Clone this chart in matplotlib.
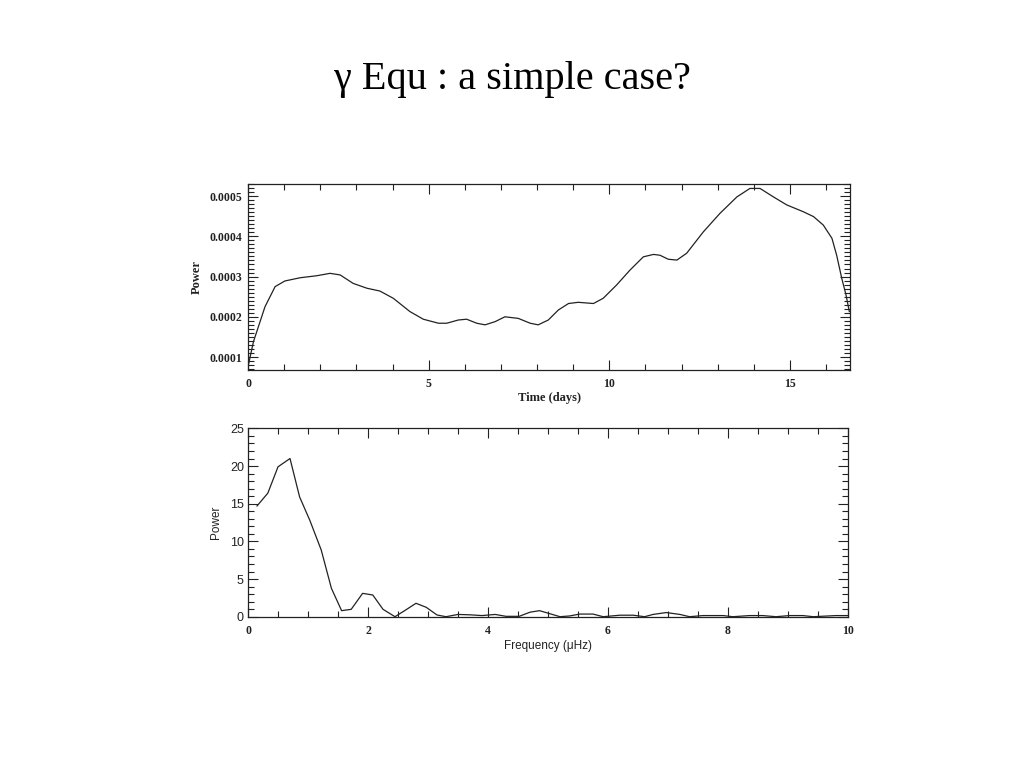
import matplotlib
matplotlib.use("Agg")
import matplotlib.pyplot as plt
from matplotlib.ticker import MultipleLocator

# top panel: power vs time (days)
time_days = [0.0, 0.15, 0.47, 0.75, 1.02, 1.44, 1.90, 2.27, 2.55, 2.91, 3.29, 3.65,
             4.02, 4.48, 4.85, 5.27, 5.50, 5.82, 6.05, 6.33, 6.56, 6.84, 7.11, 7.48,
             7.81, 8.03, 8.31, 8.59, 8.87, 9.14, 9.56, 9.83, 10.20, 10.57, 10.94,
             11.22, 11.40, 11.63, 11.87, 12.14, 12.60, 13.06, 13.53, 13.89, 14.17,
             14.54, 14.91, 15.37, 15.65, 15.92, 16.16, 16.29, 16.43, 16.55, 16.64]
power_time = [0.76, 1.38, 2.25, 2.75, 2.89, 2.97, 3.02, 3.08, 3.04, 2.83, 2.71, 2.64,
              2.46, 2.13, 1.94, 1.84, 1.84, 1.92, 1.94, 1.84, 1.80, 1.88, 2.00, 1.96,
              1.84, 1.80, 1.92, 2.17, 2.33, 2.36, 2.33, 2.46, 2.79, 3.16, 3.49,
              3.55, 3.53, 3.43, 3.41, 3.58, 4.11, 4.57, 4.98, 5.19, 5.19,
              4.98, 4.78, 4.61, 4.49, 4.28, 3.95, 3.53, 2.96, 2.54, 2.13]
power_time = [p * 1e-4 for p in power_time]

# bottom panel: power spectrum
freq = [0.15, 0.33, 0.50, 0.70, 0.86, 1.03, 1.22, 1.39, 1.56, 1.72, 1.91, 2.08,
        2.25, 2.45, 2.61, 2.80, 2.97, 3.15, 3.30, 3.50, 3.70, 3.90, 4.12, 4.30,
        4.52, 4.70, 4.86, 5.20, 5.36, 5.53, 5.75, 5.92, 6.20, 6.42, 6.61, 6.75,
        6.97, 7.20, 7.36, 7.58, 7.92, 8.08, 8.36, 8.58, 8.80, 9.03, 9.25, 9.42,
        9.80, 10.0]
power_freq = [14.7, 16.4, 19.9, 21.0, 15.9, 12.8, 8.86, 3.77, 0.80, 0.98, 3.1, 2.88,
              0.98, 0.0, 0.8, 1.78, 1.25, 0.23, 0.0, 0.3, 0.25, 0.15, 0.3, 0.05,
              0.05, 0.6, 0.8, 0.0, 0.1, 0.35, 0.35, 0.0, 0.2, 0.2, 0.0, 0.3,
              0.55, 0.3, 0.0, 0.15, 0.15, 0.0, 0.15, 0.15, 0.0, 0.15, 0.15, 0.0,
              0.15, 0.15]

serif = "Liberation Serif"
sans = "Liberation Sans"
ink = "#222222"

fig = plt.figure(figsize=(10.24, 7.68), dpi=100)
fig.patch.set_facecolor("white")

fig.text(0.5, 0.897, "\u03b3 Equ : a simple case?", ha="center", va="center",
         fontsize=29, family=serif, color="black")


def idl_axes(ax):
    ax.tick_params(which="both", direction="in", top=True, right=True, colors=ink, width=0.8)
    ax.tick_params(which="major", length=7)
    ax.tick_params(which="minor", length=4)
    for s in ax.spines.values():
        s.set_color(ink)
        s.set_linewidth(0.9)


# top panel
ax1 = fig.add_axes([0.2422, 0.5182, 0.5879, 0.2422])
ax1.plot(time_days, power_time, color=ink, lw=0.9)
ax1.set_xlim(0, 16.66)
ax1.set_ylim(0.0000677, 0.000530)
ax1.xaxis.set_major_locator(MultipleLocator(5))
ax1.xaxis.set_minor_locator(MultipleLocator(1))
ax1.yaxis.set_major_locator(MultipleLocator(0.0001))
ax1.yaxis.set_minor_locator(MultipleLocator(0.00001))
ax1.set_yticks([0.0001, 0.0002, 0.0003, 0.0004, 0.0005])
ax1.set_yticklabels(["0.0001", "0.0002", "0.0003", "0.0004", "0.0005"])
ax1.set_xticks([0, 5, 10, 15])
ax1.set_xticklabels(["0", "5", "10", "15"])
idl_axes(ax1)
for lab in ax1.get_xticklabels() + ax1.get_yticklabels():
    lab.set_family(serif)
    lab.set_fontweight("bold")
    lab.set_fontsize(8.5)
ax1.tick_params(axis="x", pad=6)
ax1.tick_params(axis="y", pad=4)
ax1.set_xlabel("Time (days)", family=serif, fontweight="bold", fontsize=9, color=ink, labelpad=1)
ax1.set_ylabel("Power", family=serif, fontweight="bold", fontsize=9, color=ink, labelpad=5)

# bottom panel
ax2 = fig.add_axes([0.2422, 0.197, 0.5859, 0.2452])
ax2.plot(freq, power_freq, color=ink, lw=0.9)
ax2.set_xlim(0, 10)
ax2.set_ylim(0, 25)
ax2.xaxis.set_major_locator(MultipleLocator(2))
ax2.xaxis.set_minor_locator(MultipleLocator(0.5))
ax2.yaxis.set_major_locator(MultipleLocator(5))
ax2.yaxis.set_minor_locator(MultipleLocator(1))
idl_axes(ax2)
for lab in ax2.get_xticklabels():
    lab.set_family(serif)
    lab.set_fontweight("bold")
    lab.set_fontsize(8.5)
for lab in ax2.get_yticklabels():
    lab.set_family(sans)
    lab.set_fontsize(9)
ax2.tick_params(axis="x", pad=6)
ax2.tick_params(axis="y", pad=3)
ax2.set_xlabel("Frequency (\u03bcHz)", family=sans, fontsize=8.5, color=ink, labelpad=2)
ax2.set_ylabel("Power", family=sans, fontsize=8.5, color=ink, labelpad=6)

fig.savefig("out.png", dpi=100, facecolor="white")
